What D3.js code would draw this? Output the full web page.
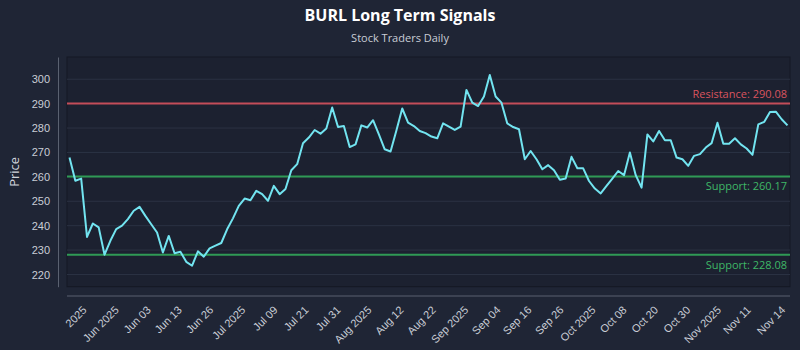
<!DOCTYPE html>
<html>
<head>
<meta charset="utf-8">
<script src="https://cdn.jsdelivr.net/npm/d3@7"></script>
<style>
  html, body { margin: 0; padding: 0; background: #1f2535; }
  svg { display: block; font-family: "Open Sans", "Noto Sans", sans-serif; }
</style>
</head>
<body>
<svg id="chart" width="800" height="350"></svg>
<script>
// closing prices, one per trading day
const prices = [
  267.9, 258.4, 259.3, 235.4, 240.9, 239.3, 228.1, 233.8, 238.6, 240.0,
  242.7, 246.1, 247.7, 244.0, 240.6, 237.2, 229.0, 235.8, 228.7, 229.3,
  225.2, 223.6, 229.5, 227.3, 230.7, 231.8, 232.9, 238.5, 243.0, 248.1,
  251.1, 250.4, 254.3, 252.9, 250.2, 256.3, 252.9, 255.0, 262.7, 265.2,
  273.8, 276.1, 279.2, 277.7, 279.8, 288.4, 280.4, 280.8, 272.2, 273.3,
  281.1, 280.2, 283.2, 277.4, 271.3, 270.4, 279.0, 288.0, 282.2, 280.8,
  278.8, 277.9, 276.5, 275.8, 281.9, 280.6, 279.2, 280.6, 295.6, 290.4,
  289.0, 292.9, 301.7, 292.9, 290.4, 281.9, 280.4, 279.5, 267.2, 270.6,
  267.2, 263.1, 264.8, 262.7, 258.8, 259.3, 268.2, 263.5, 263.5, 258.3,
  255.2, 253.2, 256.3, 259.3, 262.4, 260.7, 270.0, 260.7, 255.6, 277.4,
  274.5, 278.8, 275.0, 275.0, 267.9, 267.2, 264.5, 268.6, 269.3, 272.0,
  273.8, 282.2, 273.6, 273.6, 275.8, 273.3, 271.6, 269.0, 281.5, 282.5,
  286.6, 286.7, 283.6, 281.1
];

const tickLabels = ["2025", "Jun 2025", "Jun 03", "Jun 13", "Jun 26", "Jul 2025", "Jul 09",
  "Jul 21", "Jul 31", "Aug 2025", "Aug 12", "Aug 22", "Sep 2025", "Sep 04", "Sep 16",
  "Sep 26", "Oct 2025", "Oct 08", "Oct 20", "Oct 30", "Nov 2025", "Nov 11", "Nov 14"];
// where each label sits, in trading-day index
const tickIndex = [3.2, 8.7, 14.2, 19.5, 24.9, 30.4, 35.9, 41.2, 46.7, 52.0, 57.5, 63.0,
  68.6, 74.1, 79.4, 84.9, 90.4, 95.7, 101.1, 106.6, 111.9, 117.0, 122.9];

const yTicks = [220, 230, 240, 250, 260, 270, 280, 290, 300];

const resistance = [290.08];
const supports = [260.17, 228.08];

const svg = d3.select("#chart");
const W = 800, H = 350;
const frame = { left: 67, right: 790, top: 57, bottom: 286.7 };

svg.append("rect").attr("width", W).attr("height", H).attr("fill", "#1f2535");

const x = d3.scaleLinear()
  .domain([0, prices.length - 1])
  .range([69.5, 787.5]);

const y = d3.scaleLinear()
  .domain([215, 309.1])
  .range([frame.bottom, frame.top]);

// plot area
svg.append("rect")
  .attr("x", frame.left).attr("y", frame.top)
  .attr("width", frame.right - frame.left)
  .attr("height", frame.bottom - frame.top)
  .attr("fill", "#1c2130")
  .attr("stroke", "#141824")
  .attr("stroke-width", 1);

// grid
svg.append("g")
  .selectAll("line")
  .data(yTicks)
  .join("line")
    .attr("x1", frame.left).attr("x2", frame.right)
    .attr("y1", d => y(d)).attr("y2", d => y(d))
    .attr("stroke", "#2b3243")
    .attr("stroke-width", 1);

// y axis
const yAxis = d3.axisLeft(y).tickValues(yTicks).tickSize(0).tickPadding(8);
const gy = svg.append("g")
  .attr("transform", "translate(58,0)")
  .call(yAxis);
gy.select(".domain").attr("stroke", "#5a6170");
gy.selectAll("text").attr("fill", "#c9cdd5").style("font-size", "11px");

// x axis
const xAxis = d3.axisBottom(x)
  .tickValues(tickIndex)
  .tickFormat((d, i) => tickLabels[i])
  .tickSize(0);
const gx = svg.append("g")
  .attr("transform", "translate(0,296)")
  .call(xAxis);
gx.select(".domain").remove();
gx.append("line")
  .attr("x1", frame.left).attr("x2", frame.right)
  .attr("stroke", "#5a6170");
gx.selectAll(".tick text")
  .attr("y", 0).attr("dy", "0.35em")
  .attr("transform", "translate(-4,12) rotate(-45)")
  .attr("text-anchor", "end")
  .attr("fill", "#c9cdd5")
  .style("font-size", "11px");

// signal levels
svg.append("g")
  .selectAll("line")
  .data(resistance)
  .join("line")
    .attr("x1", frame.left).attr("x2", frame.right)
    .attr("y1", d => y(d)).attr("y2", d => y(d))
    .attr("stroke", "#c44d59").attr("stroke-width", 2);

svg.append("g")
  .selectAll("line")
  .data(supports)
  .join("line")
    .attr("x1", frame.left).attr("x2", frame.right)
    .attr("y1", d => y(d)).attr("y2", d => y(d))
    .attr("stroke", "#2f9a55").attr("stroke-width", 2);

// price line
svg.append("path")
  .datum(prices)
  .attr("fill", "none")
  .attr("stroke", "#72e4f0")
  .attr("stroke-width", 2)
  .attr("stroke-linejoin", "round")
  .attr("d", d3.line().x((d, i) => x(i)).y(d => y(d)));

// level labels
svg.append("g")
  .selectAll("text")
  .data(resistance)
  .join("text")
    .attr("x", 787).attr("y", d => y(d) - 5)
    .attr("text-anchor", "end")
    .attr("fill", "#d9545f")
    .style("font-size", "11px")
    .text(d => `Resistance: ${d.toFixed(2)}`);

svg.append("g")
  .selectAll("text")
  .data(supports)
  .join("text")
    .attr("x", 787).attr("y", d => y(d) + 14)
    .attr("text-anchor", "end")
    .attr("fill", "#3fb767")
    .style("font-size", "11px")
    .text(d => `Support: ${d.toFixed(2)}`);

// titles
svg.append("text")
  .attr("x", 400).attr("y", 21)
  .attr("text-anchor", "middle")
  .attr("fill", "#ffffff")
  .style("font-size", "16px").style("font-weight", "bold")
  .text("BURL Long Term Signals");

svg.append("text")
  .attr("x", 400).attr("y", 42)
  .attr("text-anchor", "middle")
  .attr("fill", "#c9cdd5")
  .style("font-size", "11px")
  .text("Stock Traders Daily");

svg.append("text")
  .attr("transform", `translate(19,${(frame.top + frame.bottom) / 2}) rotate(-90)`)
  .attr("text-anchor", "middle")
  .attr("fill", "#d0d4dc")
  .style("font-size", "13px")
  .text("Price");
</script>
</body>
</html>
